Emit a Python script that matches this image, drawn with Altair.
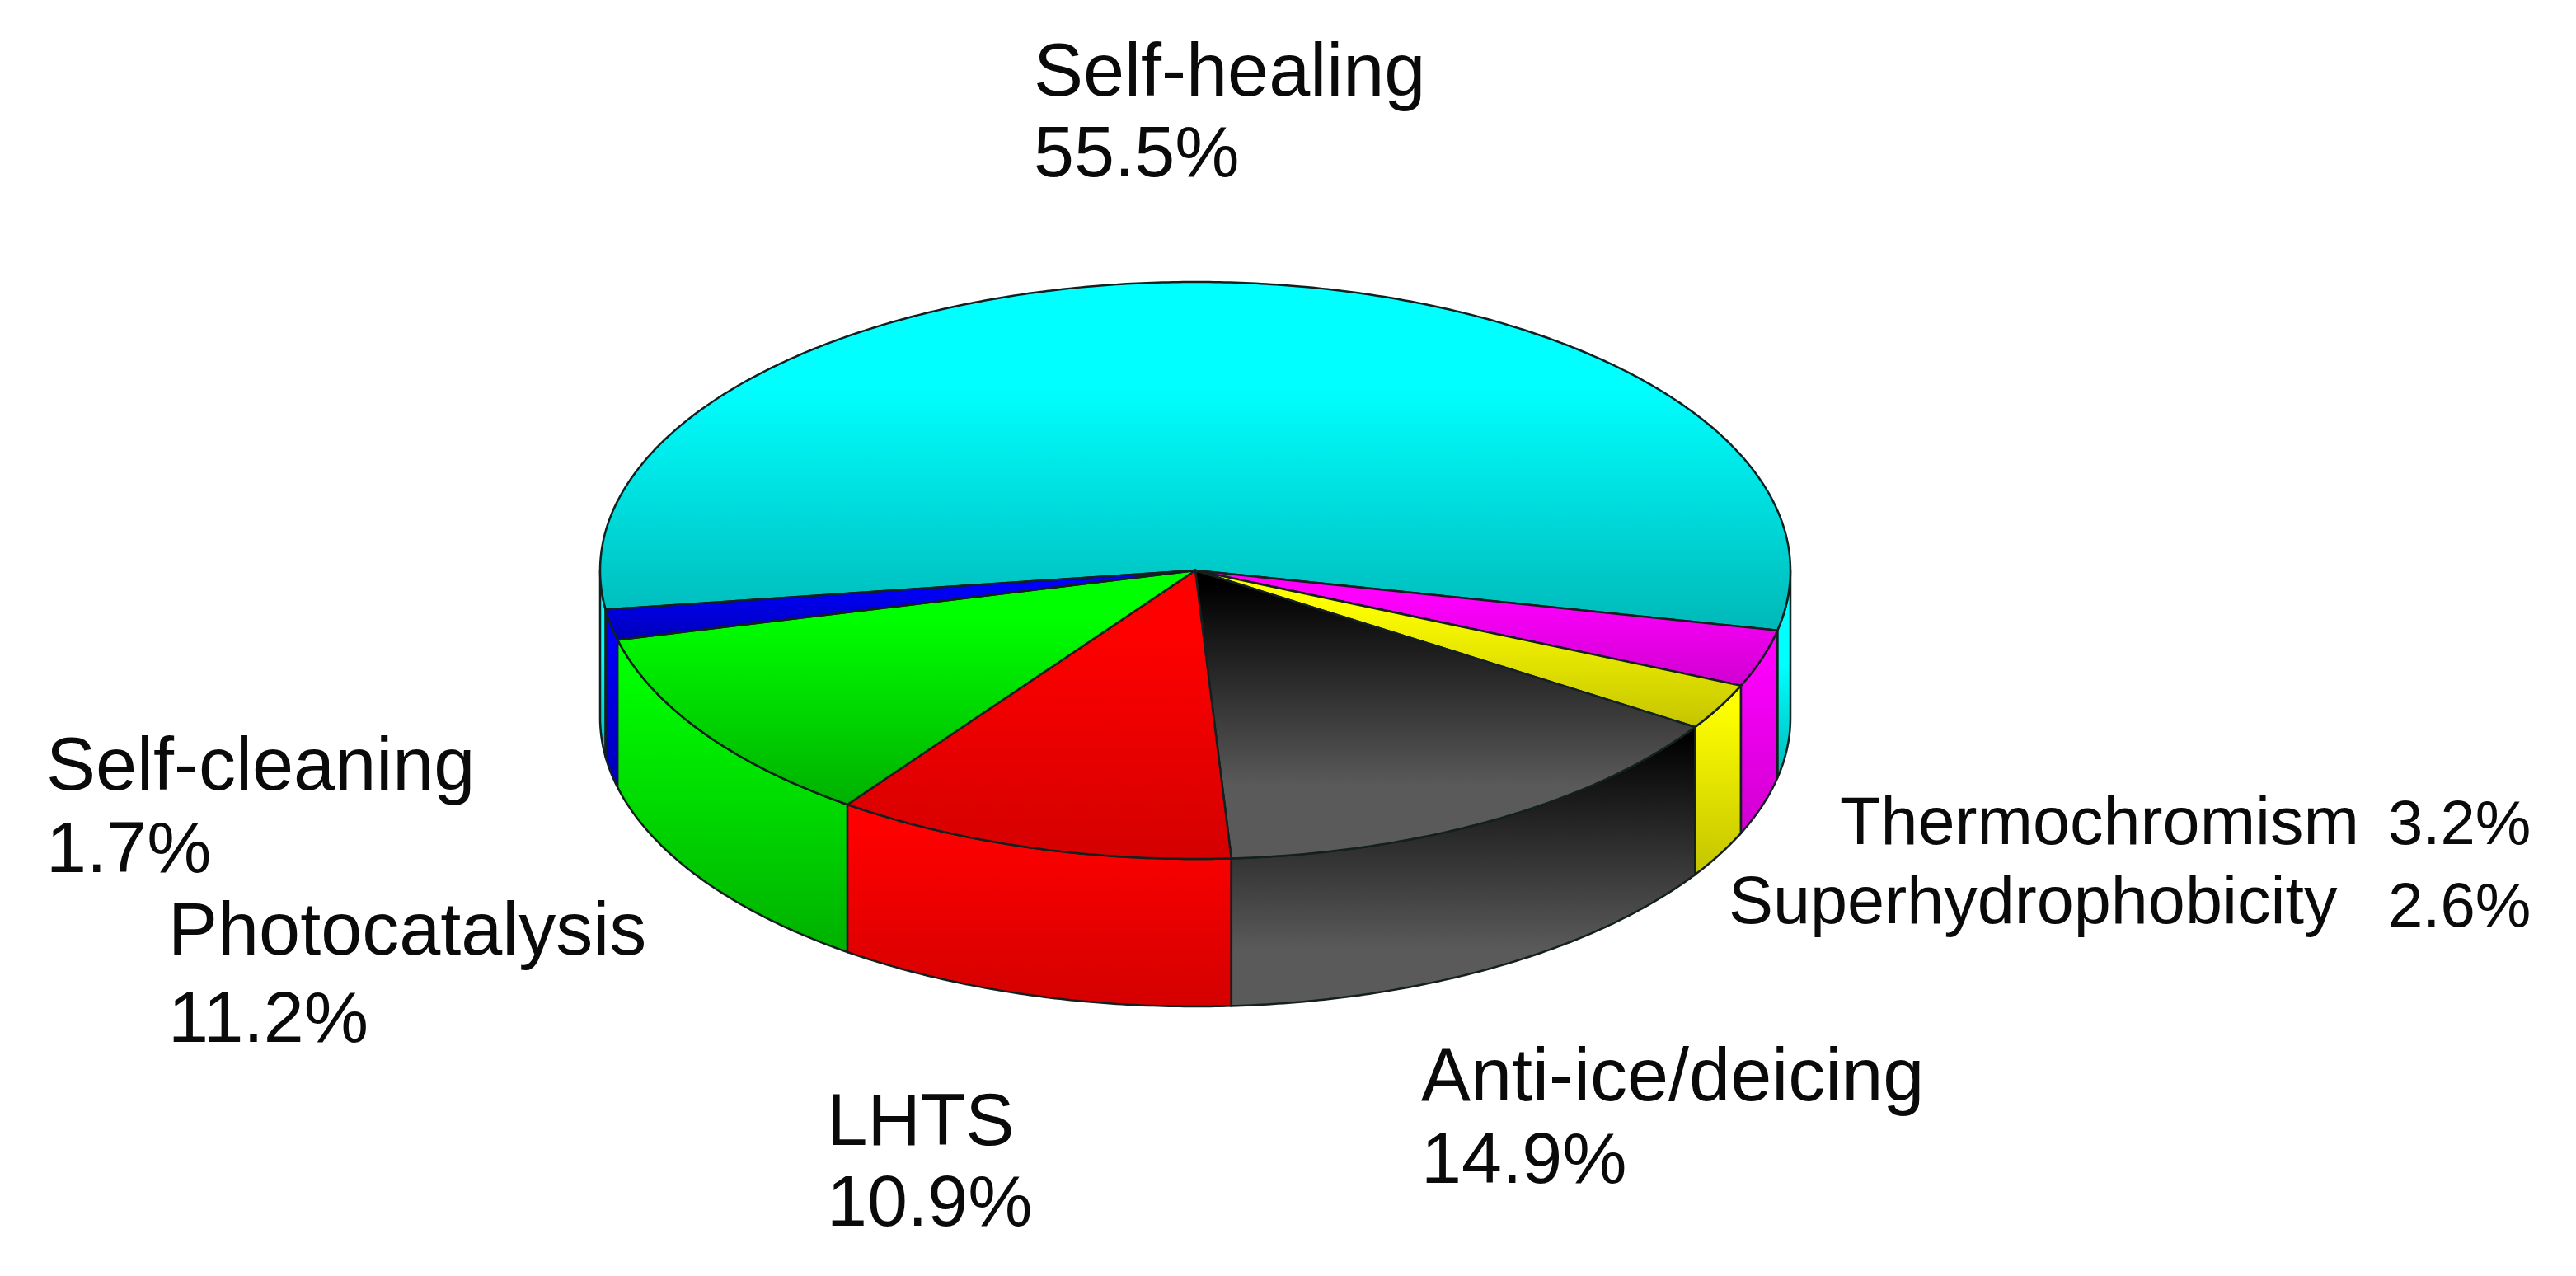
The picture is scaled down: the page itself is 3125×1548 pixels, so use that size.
import math
import altair as alt
import pandas as pd

# ---- data ----
SLICES = ["Thermochromism", "Superhydrophobicity", "Anti-ice/deicing", "LHTS",
          "Photocatalysis", "Self-cleaning", "Self-healing"]
SHARES = [3.2, 2.6, 14.9, 10.9, 11.2, 1.7, 55.5]
LABEL_TEXT = ["Self-healing", "55.5%", "Self-cleaning", "1.7%", "Photocatalysis", "11.2%",
              "LHTS", "10.9%", "Anti-ice/deicing", "14.9%",
              "Thermochromism", "3.2%", "Superhydrophobicity", "2.6%"]

# ---- styling / layout ----
BRIGHT = ["#ff00ff", "#ffff00", "#000000", "#ff0000", "#00ff00", "#0000ff", "#00ffff"]
DARK = ["#d000d0", "#c4c400", "#5a5a5a", "#d40000", "#00b000", "#0000b8", "#00b8b8"]
EDGE = "#142020"
CX, CY, RX, RY, DEPTH = 1442, 684, 722, 350, 179
START = 12.0
LABEL_X = [1254, 1254, 56, 56, 204, 204, 1003, 1003, 1724, 1724, 2232, 2897, 2097, 2897]
LABEL_Y = [116, 214, 958, 1058, 1158, 1264, 1389, 1487, 1335, 1435, 1024, 1024, 1120, 1124]
LABEL_SIZE = [90, 88, 90, 88, 90, 88, 89, 88, 90, 88, 81, 76, 81, 76]


def rim(t, dy=0.0):
    r = math.radians(t)
    return [CX + RX * math.cos(r), CY + RY * math.sin(r) + dy]


def arc(a, b, dy=0.0):
    n = max(2, int(abs(b - a) * 2))
    return [rim(a + (b - a) * i / n, dy) for i in range(n + 1)]


def feature(ring):
    return {"type": "Feature", "properties": {},
            "geometry": {"type": "Polygon", "coordinates": [ring + [ring[0]]]}}


def gradient(i, hold, end):
    return alt.LinearGradient(
        gradient="linear", x1=0, x2=0, y1=0, y2=1,
        stops=[alt.GradientStop(color=BRIGHT[i], offset=0),
               alt.GradientStop(color=BRIGHT[i], offset=hold),
               alt.GradientStop(color=DARK[i], offset=end),
               alt.GradientStop(color=DARK[i], offset=1)])


def shape(ring, i, hold, end=1.0):
    return alt.Chart(alt.InlineData(values=[feature(ring)])).mark_geoshape(
        filled=True, fill=gradient(i, hold, end), stroke=EDGE, strokeWidth=2.5
    ).project(type="identity", scale=1, translate=[0, 0])


bounds = []
angle = START
for v in SHARES:
    bounds.append((angle, angle + v * 3.6))
    angle += v * 3.6

layers = []
# side walls, only the arc that faces the viewer (0..180 degrees)
a, b = bounds[-1]
right = arc(0, START)
layers.append(shape(right + arc(START, 0, DEPTH), 6, 0.45))
left = arc(a, 180)
layers.append(shape(left + arc(180, a, DEPTH), 6, 0.45))
for i in range(5, -1, -1):
    a, b = bounds[i]
    if i == 2:
        layers.append(shape(arc(a, b) + arc(b, a, DEPTH), i, 0.03, 0.8))
    else:
        layers.append(shape(arc(a, b) + arc(b, a, DEPTH), i, 0.1))
# top faces
for i in [6, 0, 1, 2, 3, 4, 5]:
    a, b = bounds[i]
    if i == 2:
        layers.append(shape([[CX, CY]] + arc(a, b), i, 0.05, 0.75))
    else:
        layers.append(shape([[CX, CY]] + arc(a, b), i, 0.3 if i == 6 else 0.2))

labels = pd.DataFrame({"text": LABEL_TEXT,
                       "x": [x - 8 for x in LABEL_X],
                       "y": [y - 8 for y in LABEL_Y],
                       "size": LABEL_SIZE})
text = alt.Chart(labels).mark_text(
    align="left", baseline="alphabetic", font="Liberation Sans", color="#0a0a0a"
).encode(
    x=alt.X("x:Q", scale=None, axis=None),
    y=alt.Y("y:Q", scale=None, axis=None),
    text="text:N",
    size=alt.Size("size:Q", scale=None, legend=None),
)

chart = alt.layer(*layers, text).properties(
    width=3105, height=1528, background="white", padding=0,
    autosize=alt.AutoSizeParams(type="none"),
).configure_view(stroke=None)

chart.save("out.html", embed_options={"renderer": "svg", "actions": False})
